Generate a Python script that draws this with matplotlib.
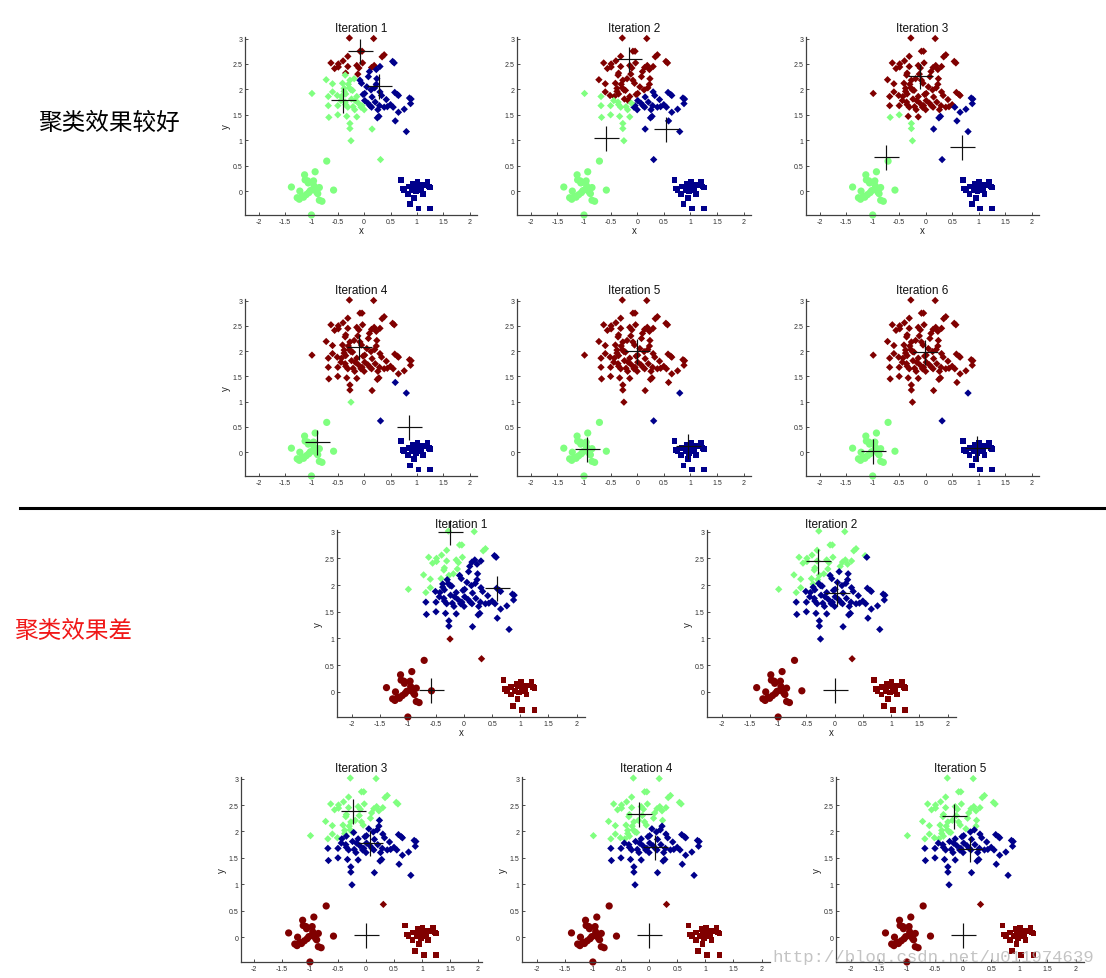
import numpy as np
import matplotlib
matplotlib.use("Agg")
import matplotlib.pyplot as plt

W, H = 1106, 979

# ---------------- data ----------------
DIAMOND_X = [-0.28, 0.18, -0.08, -0.04, 0.34, 0.38, -0.31, 0.54, 0.57, -0.63, -0.49, -0.40, -0.56, -0.49,
             -0.31, -0.14, -0.03, 0.14, 0.19, 0.23, -0.35, -0.72, -0.60, -0.41, -0.27, -0.19, -0.08, 0.08,
             0.24, -0.99, -0.68, -0.51, -0.38, -0.35, -0.43, -0.28, -0.25, -0.14, -0.02, 0.01, 0.13, 0.20,
             0.33, 0.58, 0.63, 0.65, 0.86, 0.89, -0.68, -0.50, -0.35, -0.31, -0.21, -0.06, -0.04, 0.11,
             0.14, 0.21, 0.38, 0.44, 0.50, 0.76, 0.65, -0.67, -0.50, -0.33, -0.14, -0.27, -0.27, 0.28,
             0.25, 0.15, 0.59, 0.80, -0.25, 0.31,
             -0.36, -0.30, -0.22, -0.38, -0.17, -0.24, -0.11, 0.01, 0.07, 0.26, 0.29, 0.00, -0.18, -0.05,
             0.23, -0.44, -0.36, -0.12, 0.10, 0.30, 0.42, 0.05, -0.60, 0.15, 0.88, 0.55, 0.30, -0.10]
DIAMOND_Y = [3.01, 3.00, 2.75, 2.75, 2.64, 2.68, 2.65, 2.55, 2.52, 2.52, 2.50, 2.56, 2.41, 2.44,
             2.45, 2.47, 2.52, 2.43, 2.47, 2.39, 2.32, 2.19, 2.11, 2.12, 2.18, 2.21, 2.18, 2.25,
             2.21, 1.92, 1.86, 1.88, 1.96, 1.91, 1.86, 2.03, 1.99, 1.86, 1.90, 1.92, 1.99, 2.03,
             1.88, 1.94, 1.90, 1.88, 1.83, 1.81, 1.68, 1.68, 1.70, 1.65, 1.66, 1.65, 1.68, 1.68,
             1.65, 1.75, 1.65, 1.66, 1.70, 1.61, 1.55, 1.45, 1.50, 1.47, 1.46, 1.33, 1.23, 1.47,
             1.44, 1.22, 1.38, 1.17, 0.99, 0.62,
             2.28, 2.10, 1.98, 2.02, 1.78, 1.81, 1.73, 1.78, 1.73, 1.60, 1.68, 1.60, 1.60, 2.12,
             2.10, 1.78, 1.75, 2.30, 2.35, 1.95, 1.80, 2.05, 1.95, 1.85, 1.72, 1.65, 2.45, 2.42]

CIRCLE_X = [-0.71, -0.93, -1.13, -1.07, -1.06, -0.96, -1.38, -1.22, -1.02, -0.96, -0.90, -0.85, -0.58,
            -1.27, -1.23, -1.15, -1.10, -1.05, -0.88, -0.85, -0.80, -1.00, -1.18, -0.95, -1.12]
CIRCLE_Y = [0.59, 0.38, 0.32, 0.20, 0.16, 0.20, 0.08, 0.00, 0.01, 0.03, -0.02, 0.07, 0.02,
            -0.13, -0.16, -0.12, -0.07, -0.03, -0.05, -0.18, -0.20, -0.47, -0.10, 0.10, 0.22]

SQUARE_X = [0.70, 0.73, 0.84, 0.91, 0.83, 0.95, 1.01, 1.05, 0.98, 1.03, 0.95, 1.11, 1.20, 1.16,
            1.23, 1.25, 0.87, 1.03, 1.25, 0.76, 1.08, 0.93]
SQUARE_Y = [0.22, 0.05, 0.09, 0.02, -0.05, 0.10, 0.18, 0.12, -0.01, 0.02, -0.13, -0.05, 0.18, 0.12,
            0.09, 0.07, -0.26, -0.34, -0.34, 0.02, 0.05, 0.15]

RED, BLUE, GREEN = "#800000", "#00008b", "#80ff80"

# centroids (x, y) per iteration; colour order given separately
GOOD_COLORS = [RED, BLUE, GREEN]
GOOD_CENTROIDS = [
    [(-0.07, 2.75), (0.28, 2.07), (-0.40, 1.80)],
    [(-0.15, 2.60), (0.55, 1.23), (-0.58, 1.05)],
    [(-0.10, 2.27), (0.68, 0.87), (-0.75, 0.68)],
    [(-0.10, 2.08), (0.85, 0.50), (-0.90, 0.20)],
    [(0.00, 2.00), (0.95, 0.12), (-0.95, 0.07)],
    [(-0.02, 1.98), (0.97, 0.08), (-1.00, 0.03)],
]
BAD_COLORS = [GREEN, BLUE, RED]
BAD_CENTROIDS = [
    [(-0.25, 3.00), (0.58, 1.95), (-0.58, 0.03)],
    [(-0.30, 2.45), (0.05, 1.86), (0.00, 0.04)],
    [(-0.23, 2.38), (0.08, 1.78), (0.00, 0.04)],
    [(-0.18, 2.33), (0.10, 1.70), (0.00, 0.04)],
    [(-0.16, 2.30), (0.12, 1.66), (0.00, 0.04)],
]
GOOD_TITLES = ["Iteration 1", "Iteration 2", "Iteration 3", "Iteration 4", "Iteration 5", "Iteration 6"]
BAD_TITLES = ["Iteration 1", "Iteration 2", "Iteration 3", "Iteration 4", "Iteration 5"]
X_TICKS = [-2, -1.5, -1, -0.5, 0, 0.5, 1, 1.5, 2]
X_TICKLABELS = ["-2", "-1.5", "-1", "-0.5", "0", "0.5", "1", "1.5", "2"]
Y_TICKS = [0, 0.5, 1, 1.5, 2, 2.5, 3]
Y_TICKLABELS = ["0", "0.5", "1", "1.5", "2", "2.5", "3"]

# ---------------- layout (pixels: left, top, right, bottom) ----------------
GOOD_BOXES = [(245, 38, 477, 216), (517, 38, 751, 216), (806, 38, 1039, 216),
              (245, 300, 477, 477), (517, 300, 751, 477), (806, 300, 1039, 477)]
GOOD_XLAB = [True, True, True, False, False, False]
GOOD_YLAB = [True, False, False, True, False, False]
BAD_BOXES = [(337, 531, 585, 718), (707, 531, 956, 718),
             (241, 778, 482, 963), (522, 778, 770, 963), (836, 778, 1084, 963)]
BAD_XLAB = [True, True, False, False, False]
BAD_YLAB = [True, True, True, True, True]
BAD_PAD = [1.0, 1.0, 4.0, 4.0, 4.0]

fig = plt.figure(figsize=(W / 100, H / 100), dpi=100)
fig.patch.set_facecolor("white")

pts = {
    "D": (np.array(DIAMOND_X), np.array(DIAMOND_Y), 14),
    "o": (np.array(CIRCLE_X), np.array(CIRCLE_Y), 27),
    "s": (np.array(SQUARE_X), np.array(SQUARE_Y), 17),
}


def panel(box, centroids, colors, title, xlab, ylab, pad, xlim=(-2.26, 2.14)):
    l, t, r, b = box
    ax = fig.add_axes([l / W, 1 - b / H, (r - l) / W, (b - t) / H])
    cen = np.array(centroids)
    for mk, (xs, ys, s) in pts.items():
        d = (xs[:, None] - cen[None, :, 0]) ** 2 + (ys[:, None] - cen[None, :, 1]) ** 2
        lab = np.argmin(d, axis=1)
        for k, c in enumerate(colors):
            m = lab == k
            if not m.any():
                continue
            ax.scatter(xs[m], ys[m], s=s, marker=mk, color=c, edgecolors="none", zorder=2,
                       clip_on=False)
    ax.plot(cen[:, 0], cen[:, 1], "+", color="#101010", markersize=18, mew=0.85, zorder=3,
            linestyle="none", clip_on=False)
    ax.set_xlim(*xlim)
    ax.set_ylim(-0.47, 3.03)
    ax.set_xticks(X_TICKS, X_TICKLABELS)
    ax.set_yticks(Y_TICKS, Y_TICKLABELS)
    for sp in ("top", "right"):
        ax.spines[sp].set_visible(False)
    for sp in ("left", "bottom"):
        ax.spines[sp].set_color("#404040")
        ax.spines[sp].set_linewidth(0.9)
    ax.tick_params(direction="in", length=2, width=0.6, labelsize=5, pad=2,
                   colors="#303030")
    for lbl in ax.get_xticklabels() + ax.get_yticklabels():
        lbl.set_family("Liberation Sans")
    ax.set_title(title, fontsize=8.5, family="Liberation Sans", pad=pad, color="#111111")
    if xlab:
        ax.set_xlabel("x", fontsize=7, family="Liberation Sans", labelpad=0, color="#222222")
    if ylab:
        ax.set_ylabel("y", fontsize=7, family="Liberation Sans", labelpad=1, color="#222222")
    return ax


for i in range(6):
    panel(GOOD_BOXES[i], GOOD_CENTROIDS[i], GOOD_COLORS, GOOD_TITLES[i], GOOD_XLAB[i], GOOD_YLAB[i], 4.0)

for i in range(5):
    xl = (-2.23, 2.07) if i == 2 else (-2.26, 2.15)
    panel(BAD_BOXES[i], BAD_CENTROIDS[i], BAD_COLORS, BAD_TITLES[i], BAD_XLAB[i], BAD_YLAB[i],
          BAD_PAD[i], xlim=xl)

# separator line
fig.add_artist(plt.Line2D([20 / W, 1.0], [1 - 509 / H, 1 - 509 / H], color="black", lw=2.2))

# side labels
fig.text(38 / W, 1 - 123 / H, "聚类效果较好", fontsize=17, color="black",
         family=["Noto Sans CJK SC", "DejaVu Sans"], va="center", ha="left")
fig.text(14 / W, 1 - 632 / H, "聚类效果差", fontsize=17, color="#f01818",
         family=["Noto Sans CJK SC", "DejaVu Sans"], va="center", ha="left")

# watermark
fig.text(1094 / W, 1 - 958 / H, "http://blog.csdn.net/u011974639", fontsize=12.5,
         family="Liberation Mono", color="#b0b0b0", alpha=0.75, ha="right", va="center", zorder=10)

fig.savefig("out.png", dpi=100, facecolor="white")
